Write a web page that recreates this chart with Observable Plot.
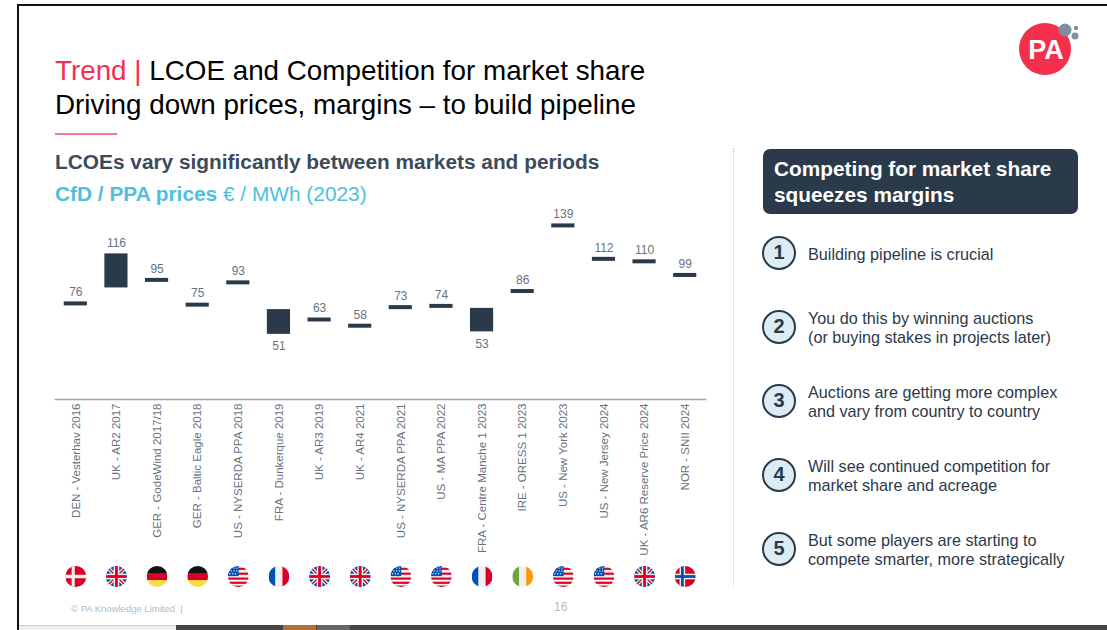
<!DOCTYPE html>
<html>
<head>
<meta charset="utf-8">
<script src="https://cdn.jsdelivr.net/npm/d3@7"></script>
<script src="https://cdn.jsdelivr.net/npm/@observablehq/plot@0.6"></script>
<style>
html,body{margin:0;padding:0;background:#fff;width:1107px;height:630px;overflow:hidden}
body{position:relative;font-family:"Liberation Sans",Arial,sans-serif}
.a{position:absolute;white-space:nowrap}
#chart{position:absolute;left:0;top:0}
#chart svg{background:transparent;display:block}
</style>
</head>
<body>
<div id="chart"></div>
<div id="deco"></div>
<script>
const categories = ["DEN - Vesterhav 2016","UK - AR2 2017","GER - GodeWind 2017/18","GER - Baltic Eagle 2018","US - NYSERDA PPA 2018","FRA - Dunkerque 2019","UK - AR3 2019","UK - AR4 2021","US - NYSERDA PPA 2021","US - MA PPA 2022","FRA - Centre Manche 1 2023","IRE - ORESS 1 2023","US - New York 2023","US - New Jersey 2024","UK - AR6 Reserve Price 2024","NOR - SNII 2024"];
const prices = [76,116,95,75,93,51,63,58,73,74,53,86,139,112,110,99];
// other end of the price range, where the source shows a range rather than a single price
const rangeEnds = [null,88.5,null,null,null,71,null,null,null,null,72,null,null,null,null,null];
const flagCodes = ["dk","uk","de","de","us","fr","uk","uk","us","us","fr","ie","us","us","uk","no"];
const points = ["Building pipeline is crucial","You do this by winning auctions\n(or buying stakes in projects later)","Auctions are getting more complex\nand vary from country to country","Will see continued competition for\nmarket share and acreage","But some players are starting to\ncompete smarter, more strategically"];

const flagSvg = {
  dk:`<rect width="60" height="60" fill="#d80027"/><rect x="18" width="9" height="60" fill="#f0f0f0"/><rect y="25" width="60" height="10" fill="#f0f0f0"/>`,
  uk:`<rect width="60" height="60" fill="#0052b4"/><path d="M0 0L60 60M60 0L0 60" stroke="#f0f0f0" stroke-width="11"/><path d="M0 0L60 60M60 0L0 60" stroke="#d80027" stroke-width="4"/><rect x="22" width="16" height="60" fill="#f0f0f0"/><rect y="22" width="60" height="16" fill="#f0f0f0"/><rect x="26" width="8" height="60" fill="#d80027"/><rect y="26" width="60" height="8" fill="#d80027"/>`,
  de:`<rect width="60" height="20" fill="#111"/><rect y="20" width="60" height="20" fill="#d80027"/><rect y="40" width="60" height="20" fill="#ffda44"/>`,
  us:`<rect width="60" height="60" fill="#f0f0f0"/><g fill="#d80027"><rect y="5" width="60" height="6"/><rect y="19" width="60" height="6"/><rect y="33" width="60" height="6"/><rect y="45" width="60" height="6"/><rect y="56" width="60" height="4"/></g><rect width="31" height="29" fill="#0052b4"/><g fill="#f0f0f0"><circle cx="10" cy="14" r="2"/><circle cx="18" cy="14" r="2"/><circle cx="26" cy="14" r="2"/><circle cx="6" cy="22" r="2"/><circle cx="14" cy="22" r="2"/><circle cx="22" cy="22" r="2"/><circle cx="18" cy="6" r="2"/><circle cx="26" cy="6" r="2"/></g>`,
  fr:`<rect width="20" height="60" fill="#0052b4"/><rect x="20" width="20" height="60" fill="#f0f0f0"/><rect x="40" width="20" height="60" fill="#d80027"/>`,
  ie:`<rect width="20" height="60" fill="#6da544"/><rect x="20" width="20" height="60" fill="#f0f0f0"/><rect x="40" width="20" height="60" fill="#ff9811"/>`,
  no:`<rect width="60" height="60" fill="#d80027"/><rect x="14" width="16" height="60" fill="#f0f0f0"/><rect y="22" width="60" height="16" fill="#f0f0f0"/><rect x="18" width="8" height="60" fill="#0052b4"/><rect y="26" width="60" height="8" fill="#0052b4"/>`
};
const flagUri = c => "data:image/svg+xml;utf8," + encodeURIComponent(`<svg xmlns="http://www.w3.org/2000/svg" viewBox="0 0 60 60" width="60" height="60">${flagSvg[c]}</svg>`);

const rows = categories.map((name,i)=>({name,price:prices[i],end:rangeEnds[i],flag:flagCodes[i],below:rangeEnds[i]!=null&&rangeEnds[i]>prices[i]}));
const navy="#2b3a4a", labelGrey="#67737f";

const chart = Plot.plot({
  width:1107,height:630,
  marginLeft:55,marginRight:402,marginTop:211,marginBottom:231,
  style:{fontFamily:'"Liberation Sans",Arial,sans-serif',background:"transparent"},
  x:{domain:categories,range:[55,705],paddingInner:0.43,paddingOuter:0.215,round:false,label:null},
  y:{domain:[0,150],range:[397,211.3],label:null,axis:null},
  marks:[
    Plot.frame({anchor:"bottom",stroke:"#a3a3a3",strokeWidth:1.5}),
    Plot.axisX({anchor:"bottom",tickSize:0,tickPadding:4,tickRotate:-90,fontSize:11.5,color:labelGrey,label:null}),
    Plot.tickY(rows.filter(d=>d.end==null),{x:"name",y:"price",stroke:navy,strokeWidth:4}),
    Plot.barY(rows.filter(d=>d.end!=null),{x:"name",y1:"end",y2:"price",fill:navy}),
    Plot.text(rows.filter(d=>!d.below),{x:"name",y:"price",text:d=>String(d.price),dy:-11,fontSize:12,fill:labelGrey}),
    Plot.text(rows.filter(d=>d.below),{x:"name",y:"price",text:d=>String(d.price),dy:12,fontSize:12,fill:labelGrey}),
    Plot.image(rows,{x:"name",src:d=>flagUri(d.flag),r:10.5,frameAnchor:"bottom",dy:177})
  ]
});
document.getElementById("chart").append(chart);

const esc=s=>s.replace(/&/g,"&amp;");
let h="";
const div=(style,html)=>`<div class="a" style="${style}">${html}</div>`;
// slide frame
h+=div("left:18px;top:4px;width:1089px;height:2px;background:#111","");
h+=div("left:17px;top:4px;width:2px;height:626px;background:#111","");
h+=div("left:19px;top:625px;width:157px;height:5px;background:#eee;border-top:1px solid #ccc;box-sizing:border-box","");
h+=div("left:176px;top:625px;width:931px;height:5px;background:#454545","");
h+=div("left:283px;top:625px;width:33px;height:5px;background:#b56f33","");
h+=div("left:317px;top:625px;width:33px;height:5px;background:#666","");
// titles
h+=div("left:55px;top:54px;font-size:27.8px;line-height:34px;color:#000",`<span style="color:#f2304f">Trend | </span>LCOE and Competition for market share<br>Driving down prices, margins – to build pipeline`);
h+=div("left:55px;top:133px;width:62px;height:2px;background:#f8798e","");
h+=div("left:55px;top:150px;font-size:20.85px;line-height:24px;font-weight:bold;color:#3c4b5c","LCOEs vary significantly between markets and periods");
h+=div("left:55px;top:182px;font-size:20.85px;line-height:24px;color:#4fbfdb",`<b>CfD / PPA prices</b> € / MWh (2023)`);
// divider
h+=div("left:733px;top:148px;height:438px;border-left:1px dotted #c8c8c8","");
// callout
h+=div("left:763px;top:149px;width:315px;height:65px;border-radius:7px;background:#2b3a4a","");
h+=div("left:774px;top:156px;font-size:20.8px;line-height:26px;font-weight:bold;color:#fff","Competing for market share<br>squeezes margins");
// numbered points
const cy=[253,327,401,475,549];
points.forEach((p,i)=>{
  h+=div(`left:762px;top:${cy[i]-17}px;width:34px;height:34px;box-sizing:border-box;border:2.5px solid #2b3a4a;border-radius:50%;background:#dcecf4;font-size:20px;font-weight:bold;line-height:29px;text-align:center;color:#2b3a4a`,i+1);
  const lines=p.split("\n");
  const top=lines.length===1?cy[i]-8:cy[i]-18;
  h+=div(`left:808px;top:${top}px;font-size:16.2px;line-height:18.5px;color:#2b3a4a`,lines.map(esc).join("<br>"));
});
// footer
h+=div("left:71px;top:603px;font-size:9.5px;line-height:12px;color:#a9bed3","© PA Knowledge Limited &nbsp;|");
h+=div("left:554px;top:600px;font-size:12px;line-height:14px;color:#a9bed3","16");
// logo
h+=`<svg class="a" style="left:1010px;top:15px" width="80" height="70"><circle cx="35" cy="34" r="26" fill="#f42f4c"/><text x="36" y="44" text-anchor="middle" font-size="27" font-weight="bold" fill="#fff" font-family="Liberation Sans,Arial,sans-serif">PA</text><circle cx="55" cy="15" r="6.5" fill="#7f8fa0"/><circle cx="66" cy="13" r="2.2" fill="#7f8fa0"/><circle cx="65" cy="21" r="3.5" fill="#7f8fa0"/></svg>`;
document.getElementById("deco").innerHTML=h;
</script>
</body>
</html>
